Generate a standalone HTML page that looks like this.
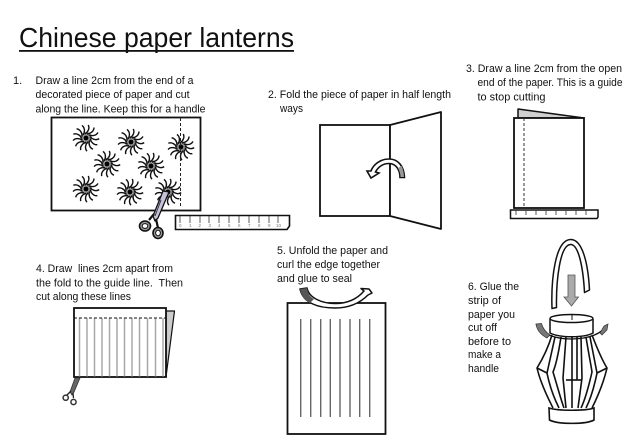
<!DOCTYPE html>
<html><head><meta charset="utf-8"><style>
html,body{margin:0;padding:0;background:#fff;width:640px;height:443px;overflow:hidden}
svg{display:block}
text{font-family:"Liberation Sans",sans-serif;font-size:11px;fill:#111}
</style></head><body>
<svg width="640" height="443" viewBox="0 0 640 443" xmlns="http://www.w3.org/2000/svg">
<defs>
<path id="b" d="M1,-4 C5,-4.500 8,-7 8,-10.500" fill="none" stroke="#111" stroke-width="1.400"/>
<g id="pw">
<circle r="6" fill="#9a9a9a"/>
<use href="#b"/><use href="#b" transform="rotate(27.700)"/><use href="#b" transform="rotate(55.400)"/><use href="#b" transform="rotate(83.100)"/><use href="#b" transform="rotate(110.800)"/><use href="#b" transform="rotate(138.500)"/><use href="#b" transform="rotate(166.200)"/><use href="#b" transform="rotate(193.900)"/><use href="#b" transform="rotate(221.600)"/><use href="#b" transform="rotate(249.300)"/><use href="#b" transform="rotate(277)"/><use href="#b" transform="rotate(304.700)"/><use href="#b" transform="rotate(332.400)"/>
<circle r="2.400" fill="#000"/>
</g>
</defs>
<rect width="640" height="443" fill="#fff"/>

<!-- title -->
<text x="19" y="47" style="font-size:28px" textLength="275" lengthAdjust="spacingAndGlyphs">Chinese paper lanterns</text>
<rect x="19" y="50" width="275" height="1.800" fill="#111"/>

<!-- step 1 text -->
<text x="13" y="84">1.</text>
<text x="35.500" y="84" textLength="158" lengthAdjust="spacingAndGlyphs">Draw a line 2cm from the end of a</text>
<text x="35.500" y="98" textLength="154" lengthAdjust="spacingAndGlyphs">decorated piece of paper and cut</text>
<text x="35.500" y="112.500" textLength="170" lengthAdjust="spacingAndGlyphs">along the line. Keep this for a handle</text>

<!-- step 1 figure -->
<rect x="51.500" y="117.500" width="149" height="93" fill="#fff" stroke="#111" stroke-width="1.800"/>
<use href="#pw" x="86" y="138"/>
<use href="#pw" x="131" y="142"/>
<use href="#pw" x="181" y="147"/>
<use href="#pw" x="107" y="164"/>
<use href="#pw" x="151" y="166"/>
<use href="#pw" x="86" y="189"/>
<use href="#pw" x="130" y="192"/>
<use href="#pw" x="168" y="192"/>
<line x1="180.500" y1="118" x2="180.500" y2="208" stroke="#222" stroke-width="1" stroke-dasharray="3 2"/>
<!-- scissors -->
<g stroke="#111" stroke-width="1.300" stroke-linejoin="round">
<path d="M163,191 L169,192 L158,218 L155,221 L153,216Z" fill="#c5c2dc"/>
<line x1="161" y1="200" x2="155" y2="216" stroke="#333" stroke-width="1"/>
<path d="M154,214 L149,220" stroke-width="2.200" fill="none"/>
<path d="M156,219 L158,228" stroke-width="2.200" fill="none"/>
<ellipse cx="145" cy="226" rx="5.500" ry="5" stroke-width="1.600" fill="#999"/>
<ellipse cx="145" cy="226" rx="2.800" ry="2.400" fill="#fff" stroke-width="1"/>
<ellipse cx="158" cy="233" rx="5" ry="5.500" stroke-width="1.600" fill="#999"/>
<ellipse cx="158" cy="233" rx="2.400" ry="2.800" fill="#fff" stroke-width="1"/>
</g>
<!-- ruler 1 -->
<path d="M175.500,215.500 H289.500 V226 L287,229.500 H175.500Z" fill="#fff" stroke="#111" stroke-width="1.600"/>
<path d="M180,216V223M190,216V223M200,216V223M209,216V223M219,216V223M229,216V223M239,216V223M249,216V223M259,216V223M269,216V223M278,216V223" stroke="#333" stroke-width=".8"/>
<g>
<text x="179" y="227" style="font-size:4.500px;fill:#777">0</text><text x="189" y="227" style="font-size:4.500px;fill:#777">1</text><text x="198.500" y="227" style="font-size:4.500px;fill:#777">2</text><text x="208.500" y="227" style="font-size:4.500px;fill:#777">3</text><text x="218" y="227" style="font-size:4.500px;fill:#777">4</text><text x="228" y="227" style="font-size:4.500px;fill:#777">5</text><text x="238" y="227" style="font-size:4.500px;fill:#777">6</text><text x="248" y="227" style="font-size:4.500px;fill:#777">7</text><text x="258" y="227" style="font-size:4.500px;fill:#777">8</text><text x="268" y="227" style="font-size:4.500px;fill:#777">9</text><text x="276" y="227" style="font-size:4.500px;fill:#777">10</text>
</g>

<!-- step 2 -->
<text x="268" y="98" textLength="183" lengthAdjust="spacingAndGlyphs">2. Fold the piece of paper in half length</text>
<text x="280" y="112" textLength="23" lengthAdjust="spacingAndGlyphs">ways</text>
<rect x="320" y="125" width="70" height="91" fill="#fff" stroke="#111" stroke-width="1.800"/>
<path d="M390,125 L441,112 V229 L390,216Z" fill="#fff" stroke="#111" stroke-width="1.800" stroke-linejoin="round"/>
<path d="M400,177.500 H404.500 C404,166 398,159 389,159 C380,159 373,165 371,171 L367,171 L371,178 L379,173 L375.500,172 C378,167 383,163.500 389,163.500 C396,163.500 400,170 400,177.500Z" fill="#fff" stroke="#111" stroke-width="1.600"/>
<path d="M400.500,177 H404 C404,173 403,169 401.500,166 L398,168 C399.500,171 400.500,174 400.500,177Z" fill="#999"/>

<!-- step 3 -->
<text x="466" y="72" textLength="156" lengthAdjust="spacingAndGlyphs">3. Draw a line 2cm from the open</text>
<text x="477.500" y="86" textLength="145" lengthAdjust="spacingAndGlyphs">end of the paper. This is a guide</text>
<text x="477.500" y="100.500" textLength="68" lengthAdjust="spacingAndGlyphs">to stop cutting</text>
<path d="M518,109 L584,118 H518Z" fill="#d0d0d0" stroke="#111" stroke-width="1.500" stroke-linejoin="round"/>
<rect x="514" y="118" width="70" height="90" fill="#fff" stroke="#111" stroke-width="1.800"/>
<line x1="524" y1="118" x2="524" y2="208" stroke="#333" stroke-width="1" stroke-dasharray="3 2"/>
<path d="M510.500,210 H598 V217 L597,218.500 H510.500Z" fill="#fff" stroke="#111" stroke-width="1.500"/>
<path d="M516,210V215M526,210V215M536,210V215M546,210V215M556,210V215M566,210V215M576,210V215M586,210V215" stroke="#333" stroke-width=".8"/>

<!-- step 4 -->
<text x="36" y="272" textLength="137" lengthAdjust="spacingAndGlyphs" xml:space="preserve">4. Draw  lines 2cm apart from</text>
<text x="36" y="286.500" textLength="147" lengthAdjust="spacingAndGlyphs" xml:space="preserve">the fold to the guide line.  Then</text>
<text x="36" y="300" textLength="95" lengthAdjust="spacingAndGlyphs">cut along these lines</text>
<path d="M166,311 H174.500 L166,377Z" fill="#ccc" stroke="#111" stroke-width="1.200" stroke-linejoin="round"/>
<rect x="74" y="308" width="92" height="69" fill="#fff" stroke="#111" stroke-width="1.800"/>
<path d="M79.500,318V376.500M87,318V376.500M94.500,318V376.500M102,318V376.500M109.500,318V376.500M117,318V376.500M124.500,318V376.500M132,318V376.500M139.500,318V376.500M147.500,318V376.500M155.500,318V376.500M163,318V376.500" stroke="#a8a8a8" stroke-width="1.500"/>
<line x1="74" y1="318" x2="166" y2="318" stroke="#111" stroke-width="1.100" stroke-dasharray="3 2"/>
<path d="M75,378 L80,378 L74,392 L72,395 L70,392Z" fill="#666" stroke="#333" stroke-width=".8"/>
<path d="M71,391 L67,395" stroke="#222" stroke-width="1.300"/>
<path d="M73,393 L73.500,398" stroke="#222" stroke-width="1.300"/>
<circle cx="65.700" cy="397.700" r="2.600" fill="#fff" stroke="#333" stroke-width="1.500"/>
<circle cx="73.500" cy="402" r="2.600" fill="#fff" stroke="#333" stroke-width="1.500"/>

<!-- step 5 -->
<text x="277" y="254" textLength="111" lengthAdjust="spacingAndGlyphs">5. Unfold the paper and</text>
<text x="277" y="268" textLength="103" lengthAdjust="spacingAndGlyphs">curl the edge together</text>
<text x="277" y="282" textLength="75" lengthAdjust="spacingAndGlyphs">and glue to seal</text>
<rect x="287.500" y="303" width="98" height="131" fill="#fff" stroke="#111" stroke-width="1.800"/>
<path d="M300.700,319V417M310.700,319V417M320.700,319V417M330.300,319V417M340,319V417M350,319V417M359.700,319V417M369.700,319V417" stroke="#666" stroke-width="1.400"/>
<path d="M300,289 L307,288 C309,298 322,303.500 335,303.500 C349,303.500 358,298 364,291 L361,288.500 L369,289 L372,293 L368,295 C360,303 349,308 335,308 C318,308 303,303 300,289Z" fill="#fff" stroke="#111" stroke-width="1.500" stroke-linejoin="round"/>
<path d="M300,289 L307,288 C308,294 310,297 314,299 L310,303 C304,300 301,295 300,289Z" fill="#555"/>

<!-- step 6 text -->
<text x="468" y="290" textLength="51" lengthAdjust="spacingAndGlyphs">6. Glue the</text>
<text x="468" y="304" textLength="33" lengthAdjust="spacingAndGlyphs">strip of</text>
<text x="468" y="318" textLength="47" lengthAdjust="spacingAndGlyphs">paper you</text>
<text x="468" y="331" textLength="29" lengthAdjust="spacingAndGlyphs">cut off</text>
<text x="468" y="345" textLength="43" lengthAdjust="spacingAndGlyphs">before to</text>
<text x="468" y="358" textLength="33" lengthAdjust="spacingAndGlyphs">make a</text>
<text x="468" y="372" textLength="31" lengthAdjust="spacingAndGlyphs">handle</text>

<!-- lantern -->
<path d="M552,308.500 C551,280 555,240 570.500,239.500 C582,239 588,262 589.500,290 L584.500,292.500 C583,265 578,244 570.500,244.500 C560,245 556,280 556.500,307.500Z" fill="#fff" stroke="#111" stroke-width="1.500" stroke-linejoin="round"/>
<path d="M568,275 H575 V297 H578.500 L571.500,306 L564,297 H568Z" fill="#aaa" stroke="#555" stroke-width=".8"/>
<path d="M550,319 V333 C560,338 584,338 593,333 V319" fill="#fff" stroke="#111" stroke-width="1.500"/>
<ellipse cx="571.500" cy="318.500" rx="21.500" ry="4" fill="#fff" stroke="#111" stroke-width="1.500"/>
<line x1="572" y1="314.500" x2="572" y2="320" stroke="#111"/>
<g fill="none" stroke="#111" stroke-width="1.600" stroke-linejoin="round">
<path d="M552,335 C548,348 542,360 537,368 C541,385 549,400 553,408"/>
<path d="M537,368 L547,373 C550,388 555,400 559,408"/>
<path d="M555,337 L547,373"/>
<path d="M561,337 C559,350 556,365 553,372 C557,385 561,400 564,408"/>
<path d="M566,337 L563,378 L566,408"/>
<path d="M572,337 V380 M577,337 V380"/>
<path d="M566,380 H581"/>
<path d="M581,337 L582,378 L578,408"/>
<path d="M572,380 V408"/>
<path d="M586,337 C588,350 591,365 592,372 C589,385 585,400 581,408"/>
<path d="M592,335 C597,348 602,360 607,368 C603,385 596,400 592,408"/>
<path d="M607,368 L597,373 C594,388 590,400 586,408"/>
<path d="M590,337 L597,373"/>
</g>
<path d="M549,408 C558,411 586,411 594,408 V420 C586,424.500 558,424.500 549.500,420Z" fill="#fff" stroke="#111" stroke-width="1.600"/>
<!-- band -->
<path d="M536,324 C540,332 552,339 571,339 C590,339 602,333 606,326" fill="none" stroke="#111" stroke-width="1.300"/>
<path d="M536,324 L541.500,323.500 C543,329 547,333 550,335 L547,338 C541,335 537,331 536,324Z" fill="#777" stroke="#333" stroke-width=".7"/>
<path d="M600,333 L604,326 L608,324 L607,330 L602,335Z" fill="#777" stroke="#333" stroke-width=".7"/>
</svg>
</body></html>
